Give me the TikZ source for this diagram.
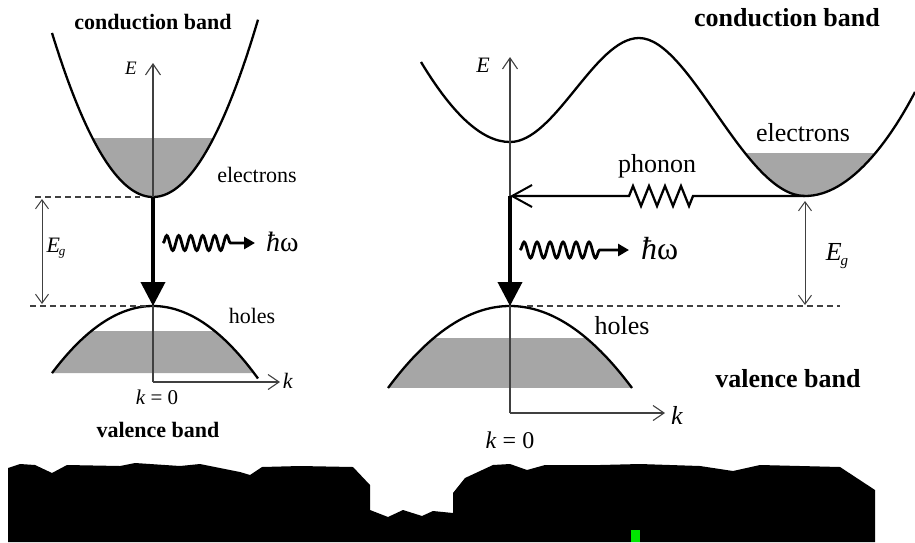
\documentclass[tikz,border=0pt]{standalone}
\usepackage{fontspec}
\setmainfont{Liberation Serif}
\usetikzlibrary{arrows.meta,decorations.pathmorphing}
\definecolor{markgreen}{RGB}{0,230,0}
\begin{document}
\begin{tikzpicture}[x=1pt,y=-1pt,
  band/.style={line width=2.3pt},
  shade/.style={fill=black!35},
  axis/.style={line width=1.1pt, draw=black!75, -{Straight Barb[length=11pt,width=15pt,line width=1.1pt]}},
  egarrow/.style={line width=1pt, draw=black!75, {Straight Barb[length=9pt,width=13pt,line width=1pt]}-{Straight Barb[length=9pt,width=13pt,line width=1pt]}},
  dashline/.style={line width=1.1pt, draw=black!75, dash pattern=on 6pt off 4pt},
  thickarr/.style={line width=3.8pt, -{Triangle[length=24pt,width=24pt]}},
  photon/.style={line width=2.8pt, decorate, decoration={snake,amplitude=7.5pt,segment length=12pt,post length=22pt}, -{Triangle[length=11pt,width=12pt]}},
  phononarr/.style={line width=2.3pt, -{Straight Barb[length=20pt,width=22pt,line width=2pt]}},
  lbl/.style={font=\fontsize{22}{24}\selectfont, inner sep=0pt},
  rlbl/.style={font=\fontsize{26}{28}\selectfont, inner sep=0pt},
  ttl/.style={font=\bfseries\fontsize{22}{24}\selectfont, inner sep=0pt},
  rttl/.style={font=\bfseries\fontsize{26}{28}\selectfont, inner sep=0pt},
  hw/.style={font=\fontsize{28}{30}\selectfont, inner sep=0pt, anchor=west},
]
\useasboundingbox (0,0) rectangle (915,542);

%% ---------------- left: direct gap ----------------
\coordinate (LCmin) at (153,197);
\coordinate (LVmax) at (153,306);
\coordinate (LO) at (153,382);
\coordinate (LEtop) at (153,63);
\coordinate (Lk) at (280,382);
\coordinate (LdA) at (35,197);
\coordinate (LdB) at (140,197);
\coordinate (LdC) at (30,306);
\coordinate (LdD) at (150,306);
\coordinate (LgA) at (42,199);
\coordinate (LgB) at (42,304);
\coordinate (LphA) at (163,243);
\coordinate (LphB) at (255,243);

\begin{scope}
  \clip (0,138) rectangle (300,200);
  \fill[shade] plot[domain=52:258,samples=80] (\x,{197-0.01608*(\x-153)^2}) -- cycle;
\end{scope}
\begin{scope}
  \clip (0,331) rectangle (300,374);
  \fill[shade] plot[domain=52:254,samples=80] (\x,{306+0.00657*(\x-153)^2}) -- cycle;
\end{scope}
\draw[band] plot[domain=52:258,samples=80] (\x,{197-0.01608*(\x-153)^2});
\draw[band] plot[domain=52:258,samples=80] (\x,{306+0.00657*(\x-153)^2});

\draw[axis] (LO) -- (LEtop);
\draw[axis] (LO) -- (Lk);
\draw[dashline] (LdA) -- (LdB);
\draw[dashline] (LdC) -- (LdD);
\draw[egarrow] (LgA) -- (LgB);
\draw[thickarr] (LCmin) -- (LVmax);
\draw[photon] (LphA) -- (LphB);

\node[ttl] (Lcb) at (153,22) {conduction band};
\node[ttl] (Lvb) at (158,430) {valence band};
\node[lbl] (Lelec) at (257,175) {electrons};
\node[lbl] (Lholes) at (252,316) {holes};
\node[lbl,font=\fontsize{19}{21}\selectfont] (LE) at (131,68) {\textit{E}};
\node[lbl] (Lklbl) at (288,381) {\textit{k}};
\node[lbl,font=\fontsize{21}{23}\selectfont] (Lk0) at (157,397) {\textit{k} = 0};
\node[lbl] (LEg) at (56,248) {\textit{E}\kern-0.05em\raisebox{-0.35ex}{\fontsize{13}{13}\selectfont\textit{g}}};
\node[hw] (Lhw) at (266,242) {\textit{ħ}ω};

%% ---------------- right: indirect gap ----------------
\coordinate (RA) at (421,62);
\coordinate (RL) at (510,142);
\coordinate (RM) at (639,38);
\coordinate (RR) at (805,196);
\coordinate (RE) at (915,92);
\coordinate (Rcorner) at (510,196);
\coordinate (RVmax) at (510,306);
\coordinate (RO) at (510,413);
\coordinate (REtop) at (510,57);
\coordinate (Rk) at (665,413);
\coordinate (RdA) at (527,306);
\coordinate (RdB) at (840,306);
\coordinate (RgA) at (805,201);
\coordinate (RgB) at (805,305);
\coordinate (RphA) at (520,250);
\coordinate (RphB) at (629,250);

\begin{scope}
  \clip (700,153) rectangle (915,200);
  \fill[shade] (RM) .. controls (690,38) and (745,196) .. (RR) .. controls (850,196) and (890,140) .. (RE) -- cycle;
\end{scope}
\begin{scope}
  \clip (380,338) rectangle (640,389);
  \fill[shade] plot[domain=388:632,samples=80] (\x,{306+0.00551*(\x-510)^2}) -- cycle;
\end{scope}
\draw[band] (RA) .. controls (450,110) and (480,142) .. (RL)
  .. controls (555,142) and (595,38) .. (RM)
  .. controls (690,38) and (745,196) .. (RR)
  .. controls (850,196) and (890,140) .. (RE);
\draw[band] plot[domain=388:632,samples=80] (\x,{306+0.00551*(\x-510)^2});

\draw[axis] (RO) -- (REtop);
\draw[axis] (RO) -- (Rk);
\draw[dashline] (RdA) -- (RdB);
\draw[egarrow] (RgA) -- (RgB);
\draw[phononarr, decorate, decoration={zigzag, amplitude=10pt, segment length=16pt, pre length=112pt, post length=118pt}] (RR) -- (Rcorner);
\draw[thickarr] (Rcorner) -- (RVmax);
\draw[photon, decoration={segment length=13pt, amplitude=8pt, post length=26pt}] (RphA) -- (RphB);

\node[rttl] (Rcb) at (787,18) {conduction band};
\node[rttl] (Rvb) at (788,379) {valence band};
\node[rlbl] (Relec) at (803,133) {electrons};
\node[rlbl] (Rphon) at (657,166) {phonon};
\node[rlbl] (Rholes) at (622,326) {holes};
\node[lbl] (RElbl) at (483,65) {\textit{E}};
\node[rlbl] (Rklbl) at (677,415) {\textit{k}};
\node[rlbl,font=\fontsize{24}{26}\selectfont] (Rk0) at (510,440) {\textit{k} = 0};
\node[rlbl] (REg) at (837,256) {\textit{E}\kern-0.05em\raisebox{-0.35ex}{\fontsize{15}{15}\selectfont\textit{g}}};
\node[hw,font=\fontsize{32}{34}\selectfont] (Rhw) at (641,249) {\textit{ħ}ω};

%% ---------------- bottom redaction block ----------------
\fill[black] (8,542) -- (8,468) -- (20,464) -- (35,465) -- (52,473) -- (67,465) -- (120,466)
  -- (135,463) -- (180,466) -- (200,464) -- (240,472) -- (250,475) -- (262,467) -- (300,466)
  -- (353,467) -- (370,485) -- (370,510) -- (388,517) -- (403,510) -- (422,516) -- (433,511)
  -- (453,513) -- (453,493) -- (465,478) -- (493,465) -- (510,464) -- (527,470) -- (545,465)
  -- (600,465) -- (640,464) -- (700,466) -- (733,471) -- (760,465) -- (840,467) -- (875,490)
  -- (875,542) -- cycle;
\fill[markgreen] (631,530) rectangle (640,542);
\end{tikzpicture}
\end{document}
